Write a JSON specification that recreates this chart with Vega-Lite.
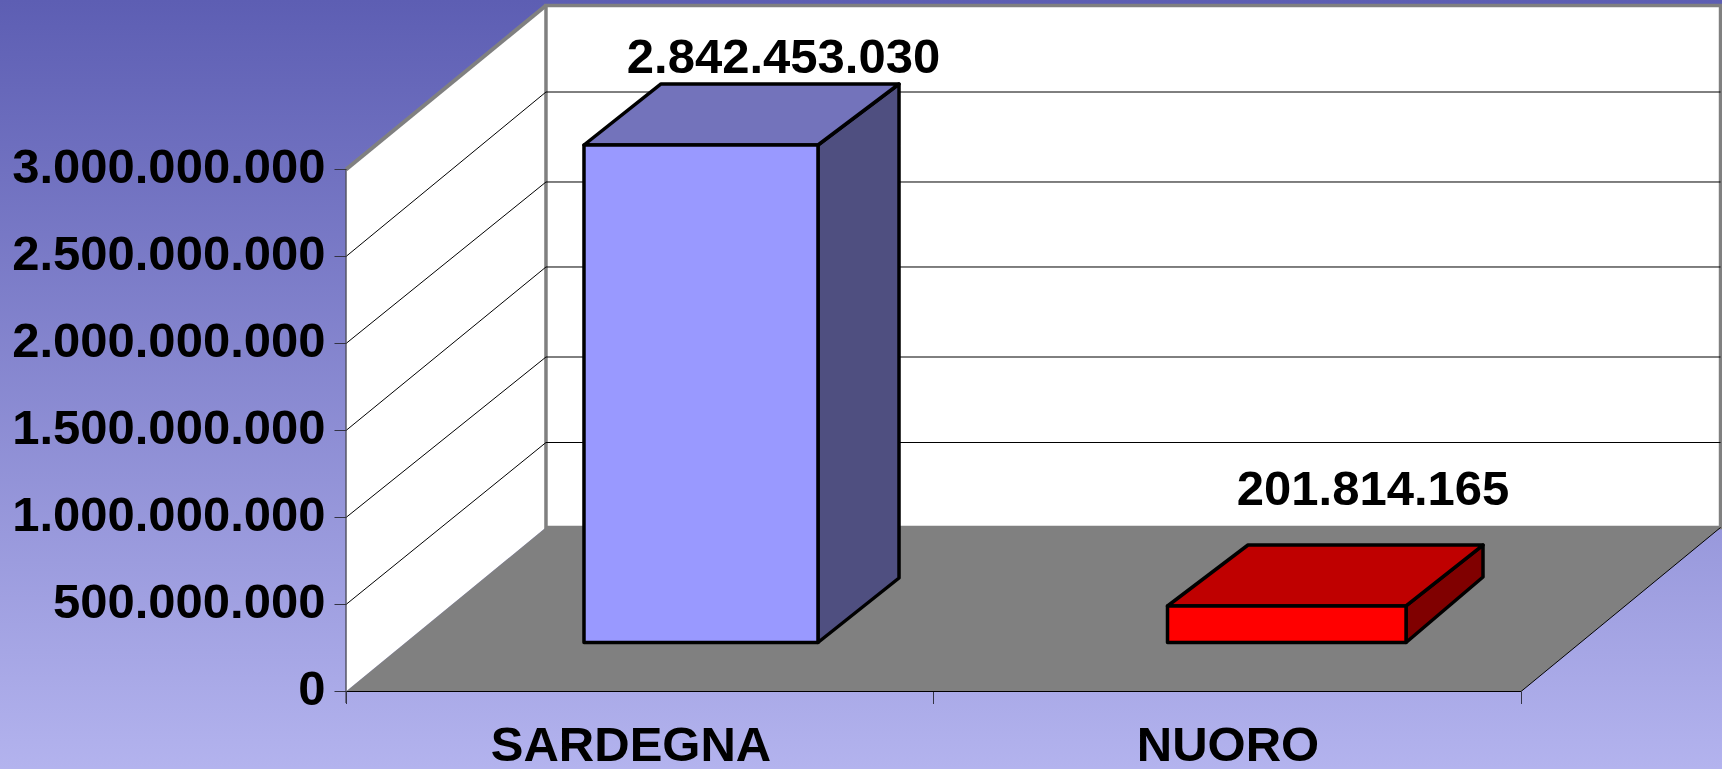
{
"$schema":"https://vega.github.io/schema/vega-lite/v6.json",
"width":1722,"height":769,"padding":0,"autosize":"none",
"background":"#8a8ad0",
"config":{"view":{"stroke":null},"font":"Liberation Sans"},
"datasets":{
"frame":[{"x0":-0.5889,"x1":2.3421,"y0":-445402299,"y1":3974137931}],
"backWall":[{"x0":0.3404,"x1":2.3396,"y0":942500000,"y1":3942500000}],
"leftWall":[{"x0":0,"y0":0,"y1":3000000000},{"x0":0.3404,"y0":942500000,"y1":3942500000}],
"floor":[{"y0":0,"x0":0,"x1":2},{"y0":942500000,"x0":0.3404,"x1":2.3396}],
"grid":[
{"x0":0.3404,"x1":2.3396,"y0":1431000000,"y1":1431000000},
{"x0":0.3404,"x1":2.3396,"y0":1922400000,"y1":1922400000},
{"x0":0.3404,"x1":2.3396,"y0":2439700000,"y1":2439700000},
{"x0":0.3404,"x1":2.3396,"y0":2928200000,"y1":2928200000},
{"x0":0.3404,"x1":2.3396,"y0":3445400000,"y1":3445400000},
{"x0":0,"x1":0.3404,"y0":500000000,"y1":1431000000},
{"x0":0,"x1":0.3404,"y0":1000000000,"y1":1922400000},
{"x0":0,"x1":0.3404,"y0":1500000000,"y1":2439700000},
{"x0":0,"x1":0.3404,"y0":2000000000,"y1":2928200000},
{"x0":0,"x1":0.3404,"y0":2500000000,"y1":3445400000},
{"x0":0,"x1":2,"y0":0,"y1":0},
{"x0":2,"x1":2.3396,"y0":0,"y1":942500000}
],
"wallEdge":[{"x0":0,"x1":0.3404,"y0":3000000000,"y1":3942500000}],
"frontEdge":[{"x0":0,"x1":0,"y0":-66000000,"y1":3000000000}],
"front":[
{"face":"SARDEGNA front","x0":0.4051,"x1":0.8034,"y0":281600000,"y1":3140800000},
{"face":"NUORO front","x0":1.3983,"x1":1.8043,"y0":281600000,"y1":491400000}
],
"side":[
{"face":"SARDEGNA side","x0":0.8034,"y0":281600000,"y1":3140800000},
{"face":"SARDEGNA side","x0":0.9413,"y0":652300000,"y1":3491400000},
{"face":"NUORO side","x0":1.8043,"y0":281600000,"y1":491400000},
{"face":"NUORO side","x0":1.9353,"y0":658000000,"y1":841900000}
],
"top":[
{"face":"SARDEGNA top","y0":3140800000,"x0":0.4051,"x1":0.8034},
{"face":"SARDEGNA top","y0":3491400000,"x0":0.5362,"x1":0.9413},
{"face":"NUORO top","y0":491400000,"x0":1.3983,"x1":1.8043},
{"face":"NUORO top","y0":841900000,"x0":1.5353,"x1":1.9353}
],
"labels":[
{"label":"2.842.453.030","x0":0.7447,"y0":3554600000},
{"label":"201.814.165","x0":1.7481,"y0":1071800000},
{"label":"SARDEGNA","x0":0.4851,"y0":-399400000},
{"label":"NUORO","x0":1.5013,"y0":-399400000}
]
},
"encoding":{
 "x":{"field":"x0","type":"quantitative","stack":null,"scale":{"domain":[-0.5889,2.3421],"nice":false,"zero":false},
   "axis":{"title":null,"values":[0,1,2],"labels":false,"domain":false,"grid":false,"tickSize":12,"tickColor":"#333344","tickWidth":1,"offset":-77.5,"zindex":1}},
 "y":{"field":"y0","type":"quantitative","stack":null,"scale":{"domain":[-445402299,3974137931],"nice":false,"zero":false},
   "axis":{"title":null,"values":[0,500000000,1000000000,1500000000,2000000000,2500000000,3000000000],"labelExpr":"replace(format(datum.value,',d'),/,/g,'.')","domain":false,"grid":false,"tickSize":12,"tickColor":"#333344","tickWidth":1,"offset":-346,"labelPadding":9,"labelFont":"Liberation Sans","labelFontWeight":"bold","labelFontSize":49,"labelColor":"#000000","labelBaseline":"alphabetic","labelOffset":13,"labelOverlap":false,"labelBound":false,"labelFlush":false,"labelLimit":0,"zindex":1}}
},
"layer":[
{"data":{"name":"frame"},
 "mark":{"type":"rect","color":{"gradient":"linear","x1":0,"y1":0,"x2":0,"y2":1,"stops":[{"offset":0,"color":"#5d5eb3"},{"offset":1,"color":"#b3b3ee"}]}},
 "encoding":{"x2":{"field":"x1"},"y2":{"field":"y1"}}},
{"data":{"name":"leftWall"},
 "mark":{"type":"area","color":"#ffffff"},
 "encoding":{"y2":{"field":"y1"}}},
{"data":{"name":"backWall"},
 "mark":{"type":"rect","color":"#ffffff","stroke":"#808080","strokeWidth":3.5},
 "encoding":{"x2":{"field":"x1"},"y2":{"field":"y1"}}},
{"data":{"name":"floor"},
 "mark":{"type":"area","orient":"horizontal","color":"#808080"},
 "encoding":{"x2":{"field":"x1"}}},
{"data":{"name":"grid"},
 "mark":{"type":"rule","color":"#000000","strokeWidth":1},
 "encoding":{"x2":{"field":"x1"},"y2":{"field":"y1"}}},
{"data":{"name":"wallEdge"},
 "mark":{"type":"rule","color":"#808080","strokeWidth":4},
 "encoding":{"x2":{"field":"x1"},"y2":{"field":"y1"}}},
{"data":{"name":"frontEdge"},
 "mark":{"type":"rule","color":"#555566","strokeWidth":1.5},
 "encoding":{"x2":{"field":"x1"},"y2":{"field":"y1"}}},
{"data":{"name":"side"},
 "mark":{"type":"area","stroke":"#000000","strokeWidth":3.5,"strokeJoin":"round"},
 "encoding":{
  "y2":{"field":"y1"},
  "detail":{"field":"face"},
  "color":{"field":"face","type":"nominal","legend":null,"scale":{"domain":["SARDEGNA side","NUORO side","SARDEGNA top","NUORO top","SARDEGNA front","NUORO front"],"range":["#4f4f80","#800000","#7373bb","#bf0000","#9999ff","#ff0000"]}}}},
{"data":{"name":"top"},
 "mark":{"type":"area","orient":"horizontal","stroke":"#000000","strokeWidth":3.5,"strokeJoin":"round"},
 "encoding":{
  "x2":{"field":"x1"},
  "detail":{"field":"face"},
  "color":{"field":"face","type":"nominal","legend":null,"scale":{"domain":["SARDEGNA side","NUORO side","SARDEGNA top","NUORO top","SARDEGNA front","NUORO front"],"range":["#4f4f80","#800000","#7373bb","#bf0000","#9999ff","#ff0000"]}}}},
{"data":{"name":"front"},
 "mark":{"type":"rect","stroke":"#000000","strokeWidth":3.5,"strokeJoin":"round"},
 "encoding":{
  "x2":{"field":"x1"},"y2":{"field":"y1"},
  "color":{"field":"face","type":"nominal","legend":null,"scale":{"domain":["SARDEGNA side","NUORO side","SARDEGNA top","NUORO top","SARDEGNA front","NUORO front"],"range":["#4f4f80","#800000","#7373bb","#bf0000","#9999ff","#ff0000"]}}}},
{"data":{"name":"labels"},
 "mark":{"type":"text","font":"Liberation Sans","fontWeight":"bold","fontSize":49,"color":"#000000","align":"center","baseline":"alphabetic"},
 "encoding":{"text":{"field":"label"}}}
]
}
